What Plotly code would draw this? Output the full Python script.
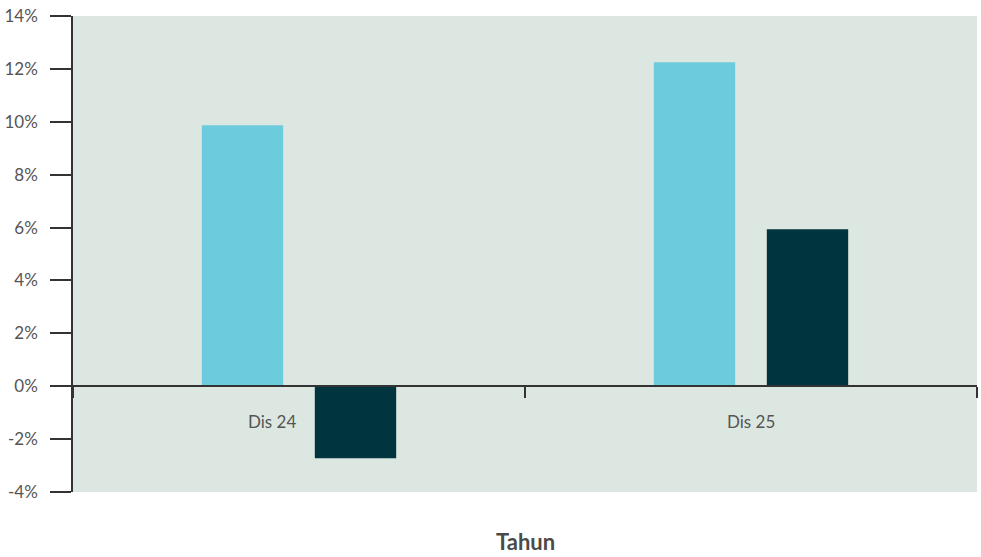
import plotly.graph_objects as go

categories = ["Dis 24", "Dis 25"]
series_a = [9.87, 12.25]
series_b = [-2.72, 5.94]
y_ticks = [-4, -2, 0, 2, 4, 6, 8, 10, 12, 14]
y_tick_labels = [f"{v}%" for v in y_ticks]
x_title = "Tahun"

FONT = "Lato"
TEXT = "#555555"
AXIS = "#333333"
label_shift = {"Dis 24": -27, "Dis 25": 0}

fig = go.Figure()
fig.add_trace(go.Bar(x=categories, y=series_a, name="Seri 1",
                     marker=dict(color="#6ccbdc", line=dict(width=0))))
fig.add_trace(go.Bar(x=categories, y=series_b, name="Seri 2",
                     marker=dict(color="#00343f", line=dict(width=0))))

annotations = [dict(
    text=c, xref="x", yref="y", x=c, y=0, yanchor="middle", xanchor="center",
    yshift=-35, xshift=label_shift.get(c, 0), showarrow=False,
    font=dict(family=FONT, size=17, color=TEXT),
) for c in categories]
annotations.append(dict(
    text=f"<b>{x_title}</b>", xref="paper", yref="paper",
    x=0.5, y=-0.105, xanchor="center", yanchor="middle",
    showarrow=False, font=dict(family=FONT, size=22, color="#4a4a4a"),
))

fig.update_layout(
    width=981, height=557,
    margin=dict(l=73, r=4, t=16, b=65),
    paper_bgcolor="white",
    plot_bgcolor="#dde7e1",
    barmode="group",
    bargap=0.5,
    bargroupgap=0.28,
    showlegend=False,
    font=dict(family=FONT, size=17, color=TEXT),
    xaxis=dict(
        type="category",
        anchor="free",
        position=4 / 18,
        automargin=False,
        showline=True, linecolor=AXIS, linewidth=1.5,
        ticks="outside", tickson="boundaries", ticklen=11,
        tickcolor=AXIS, tickwidth=1.5,
        showticklabels=False,
        showgrid=False,
    ),
    yaxis=dict(
        range=[-4, 14],
        automargin=False,
        tickvals=y_ticks, ticktext=y_tick_labels,
        showline=True, linecolor=AXIS, linewidth=1.5,
        ticks="outside", ticklen=21, tickcolor=AXIS, tickwidth=1.5,
        ticklabelstandoff=9,
        showgrid=False,
        zeroline=True, zerolinecolor=AXIS, zerolinewidth=1.5,
        tickfont=dict(family=FONT, size=17, color=TEXT),
    ),
    annotations=annotations,
)

fig.write_html("out.html", config={"displayModeBar": False},
               post_script="document.body.style.margin='0';")
